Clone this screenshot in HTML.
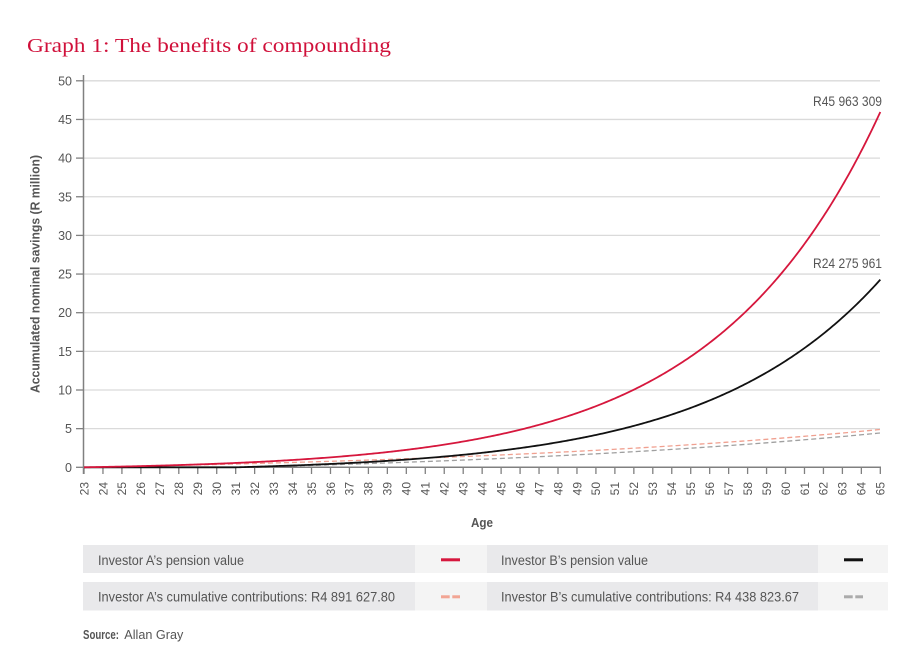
<!DOCTYPE html>
<html>
<head>
<meta charset="utf-8">
<style>
html,body{margin:0;padding:0;background:#fff;}
svg{display:block;}
</style>
</head>
<body>
<svg id="s" width="908" height="663" viewBox="0 0 908 663" xmlns="http://www.w3.org/2000/svg" font-family="Liberation Sans, Arial, sans-serif">
  <rect width="908" height="663" fill="#fff"/>
  <!-- Title -->
  <text x="27" y="52" style="font-family:'Liberation Serif','DejaVu Serif',serif;font-size:20.5px" fill="#d0103a" textLength="364" lengthAdjust="spacingAndGlyphs">Graph 1: The benefits of compounding</text>

  <g id="grid" stroke="#dadada" stroke-width="1.3"></g>
  <g id="yt" font-size="12.5" fill="#555" text-anchor="end"></g>
  <g id="xt" font-size="12" fill="#555" text-anchor="end"></g>

  <!-- axes -->
  <line x1="83.5" y1="75" x2="83.5" y2="474" stroke="#808080" stroke-width="1.5"/>
  <line x1="83" y1="467.3" x2="881" y2="467.3" stroke="#808080" stroke-width="1.5"/>

  <!-- series -->
  <path id="cB" fill="none" stroke="#a0a0a0" stroke-width="1.3" stroke-dasharray="5,3"/>
  <path id="cA" fill="none" stroke="#f0a090" stroke-width="1.3" stroke-dasharray="5,3"/>
  <path id="vB" fill="none" stroke="#111" stroke-width="1.8"/>
  <path id="vA" fill="none" stroke="#d6173d" stroke-width="1.8"/>

  <!-- annotations -->
  <text x="882" y="106" font-size="13.5" fill="#555" text-anchor="end" textLength="69" lengthAdjust="spacingAndGlyphs">R45 963 309</text>
  <text x="882" y="268" font-size="13.5" fill="#555" text-anchor="end" textLength="69" lengthAdjust="spacingAndGlyphs">R24 275 961</text>

  <!-- axis titles -->
  <text transform="translate(39.5,274) rotate(-90)" font-size="13" font-weight="bold" fill="#555" text-anchor="middle" textLength="238" lengthAdjust="spacingAndGlyphs">Accumulated nominal savings (R million)</text>
  <text x="482" y="527" font-size="13" font-weight="bold" fill="#555" text-anchor="middle" textLength="22" lengthAdjust="spacingAndGlyphs">Age</text>

  <!-- legend -->
  <rect x="83" y="545" width="332" height="28" fill="#e9e9eb"/>
  <rect x="415" y="545" width="72" height="28" fill="#f4f4f4"/>
  <rect x="487" y="545" width="331" height="28" fill="#e9e9eb"/>
  <rect x="818" y="545" width="70" height="28" fill="#f4f4f4"/>
  <rect x="83" y="582" width="332" height="28.5" fill="#e9e9eb"/>
  <rect x="415" y="582" width="72" height="28.5" fill="#f4f4f4"/>
  <rect x="487" y="582" width="331" height="28.5" fill="#e9e9eb"/>
  <rect x="818" y="582" width="70" height="28.5" fill="#f4f4f4"/>

  <text x="98" y="565" font-size="13.5" fill="#555" textLength="146" lengthAdjust="spacingAndGlyphs">Investor A’s pension value</text>
  <text x="98" y="601.7" font-size="13.5" fill="#555" textLength="297" lengthAdjust="spacingAndGlyphs">Investor A’s cumulative contributions: R4 891 627.80</text>
  <text x="501" y="565" font-size="13.5" fill="#555" textLength="147" lengthAdjust="spacingAndGlyphs">Investor B’s pension value</text>
  <text x="501" y="601.7" font-size="13.5" fill="#555" textLength="298" lengthAdjust="spacingAndGlyphs">Investor B’s cumulative contributions: R4 438 823.67</text>

  <rect x="441" y="558.3" width="19" height="3" fill="#d6173d"/>
  <rect x="844" y="558.3" width="19" height="3" fill="#111"/>
  <rect x="441" y="595.3" width="8.7" height="3" fill="#f2a594"/>
  <rect x="452.3" y="595.3" width="7.7" height="3" fill="#f2a594"/>
  <rect x="844" y="595.3" width="8.7" height="3" fill="#ababab"/>
  <rect x="855.3" y="595.3" width="7.7" height="3" fill="#ababab"/>

  <!-- source -->
  <text x="83" y="639" font-size="12.5" fill="#555" font-weight="bold" textLength="36" lengthAdjust="spacingAndGlyphs">Source:</text>
  <text x="124.3" y="639" font-size="12.5" fill="#555" textLength="59" lengthAdjust="spacingAndGlyphs">Allan Gray</text>
</svg>
<script>
(function(){
  var NS="http://www.w3.org/2000/svg";
  function X(a){return 84+(a-23)*18.96;}
  function Y(v){return 467.3-v*7.73;}
  function el(tag,attrs,parent,txt){var e=document.createElementNS(NS,tag);for(var k in attrs)e.setAttribute(k,attrs[k]);if(txt!==undefined)e.textContent=txt;parent.appendChild(e);return e;}
  var grid=document.getElementById('grid'), yt=document.getElementById('yt'), xt=document.getElementById('xt');
  for(var v=0;v<=50;v+=5){
    var y=Y(v);
    if(v>0) el('line',{x1:83,y1:y,x2:880,y2:y},grid);
    el('line',{x1:76,y1:y,x2:83,y2:y,stroke:'#808080','stroke-width':1.3},yt);
    el('text',{x:72,y:y+4.5},yt,String(v));
  }
  for(var a=23;a<=65;a++){
    var x=X(a);
    el('line',{x1:x,y1:467,x2:x,y2:474,stroke:'#808080','stroke-width':1.3},xt);
    el('text',{transform:'translate('+(x+4.3)+',482) rotate(-90)'},xt,String(a));
  }
  // smooth exponential fits
  var bA=0.1148, aA=45.963309/(Math.exp(bA*42)-1);
  function fA(age){return aA*(Math.exp(bA*(age-23))-1);}
  var sB=31, bB=0.11, aB=24.275961/(Math.exp(bB*(65-sB))-1);
  function fB(age){return age<=sB?0:aB*(Math.exp(bB*(age-sB))-1);}
  var g=Math.log(1.04);
  function cumRaw(t){return (Math.exp(g*t)-1)/g;}
  var kA=4.8916278/cumRaw(42);
  function cA(age){return kA*cumRaw(age-23);}
  var offB=cA(31.35);
  function cB(age){return Math.max(0,cA(age)-offB);}
  function path(f){var d='';for(var j=0;j<=504;j++){var age=23+j/12;d+=(j?'L':'M')+X(age).toFixed(2)+','+Y(f(age)).toFixed(2);}return d;}
  document.getElementById('vA').setAttribute('d',path(fA));
  document.getElementById('vB').setAttribute('d',path(fB));
  document.getElementById('cA').setAttribute('d',path(cA));
  document.getElementById('cB').setAttribute('d',path(cB));
})();
</script>
</body>
</html>
